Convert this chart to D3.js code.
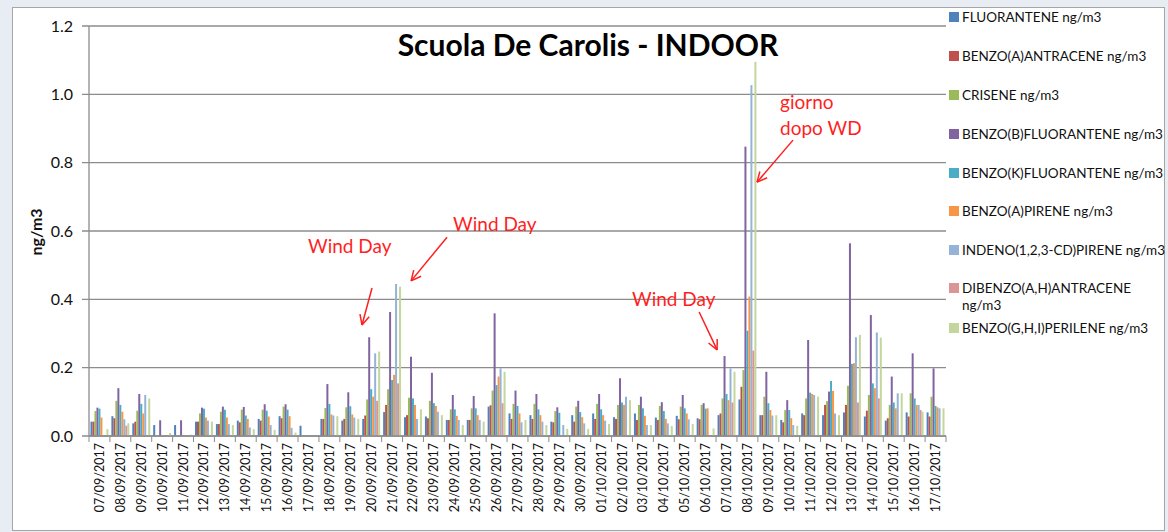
<!DOCTYPE html>
<html>
<head>
<meta charset="utf-8">
<script src="https://cdn.jsdelivr.net/npm/d3@7"></script>
<style>
  html, body { margin: 0; padding: 0; background: #e8edf3; }
  svg { display: block; font-family: Lato, "Open Sans", sans-serif; }
</style>
</head>
<body>
<div id="chart"></div>
<script>
// Dates on the x axis
const dates = [
    "07/09/2017", "08/09/2017", "09/09/2017", "10/09/2017", "11/09/2017", "12/09/2017",
    "13/09/2017", "14/09/2017", "15/09/2017", "16/09/2017", "17/09/2017", "18/09/2017",
    "19/09/2017", "20/09/2017", "21/09/2017", "22/09/2017", "23/09/2017", "24/09/2017",
    "25/09/2017", "26/09/2017", "27/09/2017", "28/09/2017", "29/09/2017", "30/09/2017",
    "01/10/2017", "02/10/2017", "03/10/2017", "04/10/2017", "05/10/2017", "06/10/2017",
    "07/10/2017", "08/10/2017", "09/10/2017", "10/10/2017", "11/10/2017", "12/10/2017",
    "13/10/2017", "14/10/2017", "15/10/2017", "16/10/2017", "17/10/2017"
];

// Series names as in the legend
const seriesNames = [
    "FLUORANTENE ng/m3",
    "BENZO(A)ANTRACENE ng/m3",
    "CRISENE ng/m3",
    "BENZO(B)FLUORANTENE ng/m3",
    "BENZO(K)FLUORANTENE ng/m3",
    "BENZO(A)PIRENE ng/m3",
    "INDENO(1,2,3-CD)PIRENE ng/m3",
    "DIBENZO(A,H)ANTRACENE ng/m3",
    "BENZO(G,H,I)PERILENE ng/m3"
];

// Values per series (ng/m3), one per date
const fluorantene = [0.042, 0.058, 0.037, 0.032, 0.032, 0.042, 0.035, 0.045, 0.050, 0.058, 0.030, 0.050, 0.045, 0.050, 0.070, 0.055, 0.057, 0.047, 0.047, 0.086, 0.066, 0.061, 0.042, 0.061, 0.066, 0.055, 0.066, 0.054, 0.059, 0.052, 0.061, 0.107, 0.061, 0.047, 0.066, 0.061, 0.069, 0.057, 0.045, 0.069, 0.069];
const benzoAAntracene = [0.042, 0.052, 0.042, 0, 0, 0.042, 0.035, 0.040, 0.045, 0.052, 0, 0.050, 0.050, 0.060, 0.091, 0.061, 0.052, 0.047, 0.047, 0.090, 0.050, 0.050, 0.040, 0.042, 0.050, 0.050, 0.047, 0.047, 0.049, 0.049, 0.066, 0.144, 0.061, 0.040, 0.061, 0.091, 0.091, 0.074, 0.052, 0.057, 0.057];
const crisene = [0.073, 0.103, 0.074, 0, 0, 0.066, 0.071, 0.077, 0.077, 0.086, 0, 0.082, 0.084, 0.107, 0.137, 0.112, 0.103, 0.078, 0.081, 0.133, 0.094, 0.094, 0.073, 0.086, 0.094, 0.091, 0.091, 0.088, 0.086, 0.091, 0.110, 0.193, 0.115, 0.076, 0.110, 0.102, 0.147, 0.120, 0.091, 0.125, 0.115];
const benzoBFluorantene = [0.083, 0.140, 0.123, 0.046, 0.046, 0.083, 0.086, 0.085, 0.093, 0.093, 0, 0.152, 0.128, 0.289, 0.363, 0.232, 0.185, 0.120, 0.117, 0.359, 0.133, 0.123, 0.084, 0.103, 0.123, 0.169, 0.115, 0.099, 0.120, 0.096, 0.234, 0.847, 0.188, 0.105, 0.281, 0.130, 0.564, 0.354, 0.174, 0.242, 0.198];
const benzoKFluorantene = [0.080, 0.091, 0.094, 0, 0, 0.080, 0.077, 0.060, 0.074, 0.077, 0, 0.094, 0.087, 0.137, 0.164, 0.110, 0.096, 0.078, 0.081, 0.149, 0.088, 0.078, 0.068, 0.070, 0.078, 0.098, 0.081, 0.073, 0.081, 0.080, 0.123, 0.308, 0.096, 0.076, 0.127, 0.161, 0.211, 0.154, 0.098, 0.110, 0.088];
const benzoAPirene = [0.054, 0.071, 0.066, 0, 0, 0.054, 0.054, 0.050, 0.057, 0.058, 0, 0.063, 0.063, 0.115, 0.179, 0.091, 0.088, 0.059, 0.061, 0.174, 0.066, 0.061, 0, 0.055, 0.061, 0.091, 0.059, 0.050, 0.066, 0.081, 0.105, 0.408, 0.076, 0.052, 0.123, 0.132, 0.213, 0.140, 0.081, 0.091, 0.084];
const indenoPirene = [0, 0.049, 0.120, 0, 0, 0.045, 0.035, 0.025, 0.032, 0.024, 0, 0.060, 0.054, 0.242, 0.445, 0.050, 0.071, 0.047, 0.047, 0.198, 0.040, 0.042, 0.032, 0.037, 0.045, 0.115, 0.032, 0.037, 0.049, 0, 0.198, 1.027, 0.060, 0.032, 0.120, 0.066, 0.289, 0.303, 0.125, 0.091, 0.081];
const dibenzoAntracene = [0, 0.030, 0, 0, 0, 0, 0, 0, 0, 0, 0, 0, 0, 0.103, 0.154, 0, 0, 0, 0, 0.096, 0, 0, 0, 0, 0, 0, 0, 0, 0, 0, 0.098, 0.250, 0, 0, 0, 0, 0.098, 0.110, 0, 0.076, 0];
const benzoGhiPerilene = [0.020, 0.037, 0.110, 0.009, 0.004, 0.042, 0.032, 0.020, 0.018, 0.010, 0, 0.058, 0.050, 0.247, 0.437, 0.078, 0.061, 0.032, 0.042, 0.188, 0.047, 0.032, 0.021, 0.021, 0.035, 0.105, 0.032, 0.029, 0.035, 0.022, 0.188, 1.095, 0.061, 0.030, 0.115, 0.061, 0.296, 0.288, 0.125, 0.071, 0.081];

const seriesValues = [fluorantene, benzoAAntracene, crisene, benzoBFluorantene, benzoKFluorantene,
    benzoAPirene, indenoPirene, dibenzoAntracene, benzoGhiPerilene];

const colors = ["#4f81bd", "#c0504d", "#9bbb59", "#8064a2", "#4bacc6", "#f79646", "#95b3d7", "#d99694", "#c3d69b"];

const yTicks = [0, 0.2, 0.4, 0.6, 0.8, 1.0, 1.2];

// Red notes drawn on the chart, placed in (date index, value) units
const notes = [
    { lines: ["Wind Day"], tx: 10.48, ty: 0.536, from: [13.54, 0.433], to: [13.06, 0.325] },
    { lines: ["Wind Day"], tx: 17.42, ty: 0.600, from: [17.13, 0.582], to: [15.41, 0.454] },
    { lines: ["Wind Day"], tx: 25.98, ty: 0.380, from: [29.19, 0.363], to: [30.05, 0.252] },
    { lines: ["giorno", "dopo WD"], tx: 33.06, ty: 0.957, from: [33.68, 0.866], to: [31.96, 0.743] }
];

const W = 1168, H = 532;
const plot = { left: 89, right: 946, top: 26, bottom: 436 };

const svg = d3.select("#chart").append("svg")
    .attr("width", W)
    .attr("height", H);

// Chart frame
svg.append("rect")
    .attr("x", 12.5).attr("y", 7.5)
    .attr("width", 1152).attr("height", 523)
    .attr("fill", "#fff")
    .attr("stroke", "#a6a6a6");

const x0 = d3.scaleBand()
    .domain(dates)
    .range([plot.left, plot.right])
    .paddingInner(0.143)
    .paddingOuter(0.0715);

const x1 = d3.scaleBand()
    .domain(d3.range(seriesNames.length))
    .range([0, x0.bandwidth()]);

const xi = d3.scaleLinear().domain([0, dates.length]).range([plot.left, plot.right]);

const y = d3.scaleLinear().domain([0, 1.2]).range([plot.bottom, plot.top]);

// Grid lines
svg.append("g")
    .selectAll("line")
    .data(yTicks)
    .enter().append("line")
    .attr("x1", plot.left - 7).attr("x2", plot.right)
    .attr("y1", d => y(d)).attr("y2", d => y(d))
    .attr("stroke", "#8c8c8c")
    .attr("stroke-width", 1.3);

// Y tick labels
svg.append("g")
    .selectAll("text")
    .data(yTicks)
    .enter().append("text")
    .attr("x", 73)
    .attr("y", d => y(d) + 5.5)
    .attr("text-anchor", "end")
    .attr("font-size", "16px")
    .attr("fill", "#111")
    .text(d3.format(".1f"));

// Y axis title
svg.append("text")
    .attr("transform", "translate(42,232) rotate(-90)")
    .attr("text-anchor", "middle")
    .attr("font-size", "16px")
    .attr("font-weight", "bold")
    .attr("fill", "#111")
    .text("ng/m3");

// Bars
const groups = svg.append("g")
    .selectAll("g")
    .data(dates)
    .enter().append("g")
    .attr("transform", d => `translate(${x0(d)},0)`);

groups.selectAll("rect")
    .data((d, i) => seriesValues.map((vals, s) => ({ s, v: vals[i] })))
    .enter().append("rect")
    .attr("x", d => x1(d.s))
    .attr("y", d => y(d.v))
    .attr("width", x1.bandwidth())
    .attr("height", d => plot.bottom - y(d.v))
    .attr("fill", d => colors[d.s]);

// Axes lines
svg.append("line")
    .attr("x1", plot.left).attr("x2", plot.left)
    .attr("y1", plot.top).attr("y2", plot.bottom)
    .attr("stroke", "#8c8c8c").attr("stroke-width", 1.3);

svg.append("line")
    .attr("x1", plot.left).attr("x2", plot.right)
    .attr("y1", plot.bottom).attr("y2", plot.bottom)
    .attr("stroke", "#8c8c8c").attr("stroke-width", 1.3);

// X tick marks at category boundaries
svg.append("g")
    .selectAll("line")
    .data(d3.range(dates.length + 1))
    .enter().append("line")
    .attr("x1", d => xi(d)).attr("x2", d => xi(d))
    .attr("y1", plot.bottom).attr("y2", plot.bottom + 6)
    .attr("stroke", "#8c8c8c");

// X labels (rotated)
svg.append("g")
    .selectAll("text")
    .data(dates)
    .enter().append("text")
    .attr("transform", d => `translate(${x0(d) + x0.bandwidth() / 2 + 4.5},443) rotate(-90)`)
    .attr("text-anchor", "end")
    .attr("font-size", "12.5px")
    .attr("fill", "#111")
    .text(d => d);

// Title
svg.append("text")
    .attr("x", 588)
    .attr("y", 56)
    .attr("text-anchor", "middle")
    .attr("font-size", "30px")
    .attr("font-weight", "bold")
    .attr("fill", "#000")
    .text("Scuola De Carolis - INDOOR");

// Legend
const legendY = [17, 56, 95, 134, 173, 211, 250, 288, 328];
const legend = svg.append("g")
    .selectAll("g")
    .data(seriesNames)
    .enter().append("g")
    .attr("transform", (d, i) => `translate(949,${legendY[i]})`);

legend.append("rect")
    .attr("x", 0).attr("y", -5)
    .attr("width", 10).attr("height", 10)
    .attr("fill", (d, i) => colors[i]);

legend.append("text")
    .attr("x", 13)
    .attr("y", 5)
    .attr("font-size", "13.5px")
    .attr("fill", "#111")
    .each(function (d) {
        const t = d3.select(this);
        if (d.startsWith("DIBENZO")) {
            t.append("tspan").attr("x", 13).text("DIBENZO(A,H)ANTRACENE");
            t.append("tspan").attr("x", 13).attr("dy", 17).text("ng/m3");
        } else {
            t.text(d);
        }
    });

// Red notes with arrows
const red = "#ff1f1f";
const noteG = svg.append("g");
notes.forEach(n => {
    const t = noteG.append("text")
        .attr("x", xi(n.tx))
        .attr("y", y(n.ty))
        .attr("font-size", "19px")
        .attr("fill", red);
    n.lines.forEach((l, k) => {
        t.append("tspan").attr("x", xi(n.tx)).attr("dy", k === 0 ? 0 : 26).text(l);
    });

    const fx = xi(n.from[0]), fy = y(n.from[1]);
    const hx = xi(n.to[0]), hy = y(n.to[1]);
    noteG.append("line")
        .attr("x1", fx).attr("y1", fy).attr("x2", hx).attr("y2", hy)
        .attr("stroke", red).attr("stroke-width", 1.5);
    const ang = Math.atan2(hy - fy, hx - fx);
    const len = 11, spread = 0.45;
    [ang + Math.PI - spread, ang + Math.PI + spread].forEach(a => {
        noteG.append("line")
            .attr("x1", hx).attr("y1", hy)
            .attr("x2", hx + len * Math.cos(a)).attr("y2", hy + len * Math.sin(a))
            .attr("stroke", red).attr("stroke-width", 1.5);
    });
});
</script>
</body>
</html>
